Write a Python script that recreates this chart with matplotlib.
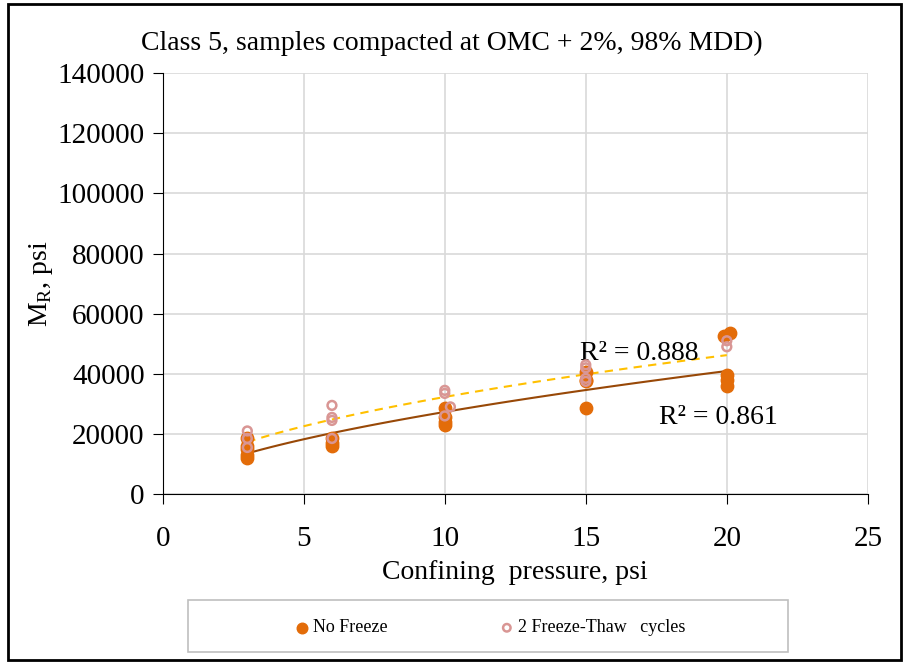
import numpy as np
import matplotlib
matplotlib.use("Agg")
from matplotlib import pyplot as plt
from matplotlib.patches import Rectangle

plt.rcParams['font.family'] = ['Liberation Serif', 'DejaVu Serif']

# No Freeze samples
nf_x = [3, 3, 3, 3, 3, 6, 6, 6, 10, 10, 10, 10, 15, 15, 15, 15, 19.9, 20.1, 20, 20, 20]
nf_y = [12000, 13000, 15000, 16000, 18500, 16000, 17000, 18500, 28500, 25500, 24000, 23000,
        40500, 38000, 37500, 28500, 52500, 53500, 39500, 38000, 36000]

# 2 freeze-thaw cycles
ft_x = [3, 3, 3, 6, 6, 6, 6, 10, 10, 10.2, 10, 15, 15, 15, 15, 20, 20]
ft_y = [21000, 18500, 15500, 29500, 25500, 24500, 18500, 34500, 33500, 29000, 26000,
        43000, 42000, 38500, 37500, 51000, 49000]

xticks = [0, 5, 10, 15, 20, 25]
yticks = [0, 20000, 40000, 60000, 80000, 100000, 120000, 140000]
r2_nf = "R² = 0.861"
r2_ft = "R² = 0.888"


def power_fit(x, y):
    b, lna = np.polyfit(np.log(x), np.log(y), 1)
    xs = np.linspace(min(x), max(x), 100)
    return xs, np.exp(lna) * xs ** b


fig = plt.figure(figsize=(9.04, 6.65), dpi=100)
ax = fig.add_axes([0.180, 0.257, 0.780, 0.633])

ax.scatter(nf_x, nf_y, s=80, color='#E36C09', zorder=3, label='No Freeze')
ax.scatter(ft_x, ft_y, s=40, facecolors='none', edgecolors='#D99694', linewidths=1.8,
           zorder=4, label='2 Freeze-Thaw   cycles')

xs, ys = power_fit(nf_x, nf_y)
ax.plot(xs, ys, color='#984807', lw=1.5, zorder=2)
xs, ys = power_fit(ft_x, ft_y)
ax.plot(xs, ys, color='#FFC000', lw=1.5, ls=(0, (4, 3)), zorder=2)

ax.set_xlim(0, 25)
ax.set_ylim(0, 140000)
ax.set_xticks(xticks)
ax.set_yticks(yticks)
ax.grid(True, color='#D9D9D9', lw=1.2)
ax.set_axisbelow(True)
for s in ['top', 'right']:
    ax.spines[s].set_visible(False)
ax.spines['left'].set_color('black')
ax.spines['bottom'].set_color('black')
ax.tick_params(labelsize=21, direction='out', length=7)
ax.tick_params(axis='x', pad=16)
ax.tick_params(axis='y', pad=6)

ax.set_xlabel('Confining  pressure, psi', fontsize=20, labelpad=6)
ax.set_ylabel('M$_\\mathregular{R}$, psi', fontsize=20, labelpad=2)

ax.text(14.8, 42500, r2_ft, fontsize=20, va='bottom')
ax.text(17.6, 21200, r2_nf, fontsize=20, va='bottom')

fig.text(0.5, 0.935, 'Class 5, samples compacted at OMC + 2%, 98% MDD)', fontsize=20,
         ha='center', va='center')

# legend box drawn separately so it can be wider than the entries
fig.add_artist(Rectangle((188 / 904, 1 - 652 / 665), 600 / 904, 52 / 665,
                         transform=fig.transFigure, fill=False, edgecolor='#BFBFBF', lw=1.2))
leg = fig.legend(loc='center', bbox_to_anchor=(490 / 904, 1 - 628 / 665), ncol=2, fontsize=13,
                 frameon=False, columnspacing=6.2, handlelength=0.8, handletextpad=0.2,
                 markerscale=0.85)

fig.add_artist(Rectangle((8 / 904, 1 - 660 / 665), 893 / 904, 656 / 665,
                         transform=fig.transFigure, fill=False, edgecolor='black', lw=2))

fig.savefig('out.png', dpi=100)
